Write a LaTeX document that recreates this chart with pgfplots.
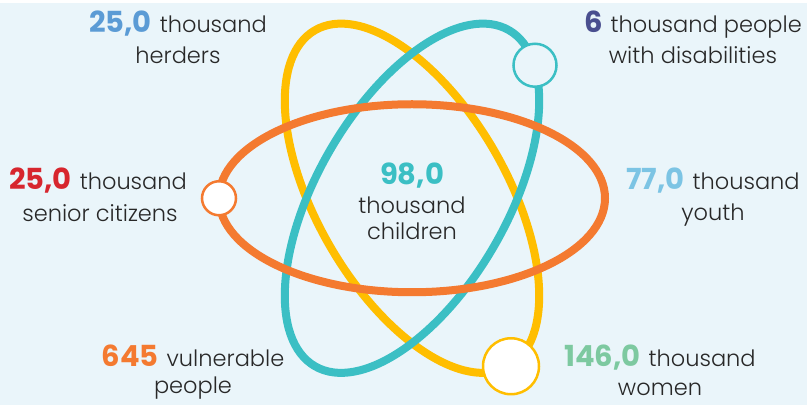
\documentclass[border=0pt]{standalone}
\usepackage{pgfplots}
\pgfplotsset{compat=1.18}
\usepackage{fontspec}
\setmainfont{Poppins}
\newfontfamily\lightfont{Poppins Light}
\definecolor{bgc}{RGB}{234,245,250}
\definecolor{orangec}{RGB}{244,122,48}
\definecolor{yellowc}{RGB}{255,190,0}
\definecolor{tealc}{RGB}{59,191,196}
\definecolor{herdc}{RGB}{91,155,213}
\definecolor{disc}{RGB}{74,79,143}
\definecolor{senc}{RGB}{215,38,46}
\definecolor{youc}{RGB}{124,196,228}
\definecolor{womc}{RGB}{125,201,160}
\definecolor{txtc}{RGB}{40,40,40}
\newcommand\num[2]{{\color{#1}\fontsize{29}{30}\selectfont\bfseries #2}\hspace{8pt}}
\newcommand\txt{\lightfont\fontsize{22.5}{26}\selectfont\color{txtc}}
\begin{document}
\begin{tikzpicture}
\begin{axis}[
  scale only axis, width=807pt, height=402pt,
  xmin=0, xmax=807, ymin=0, ymax=402, y dir=reverse,
  hide axis, clip=false,
]
\fill[bgc] (axis cs:0,0) rectangle (axis cs:807,402);
% orbits
\draw[yellowc, line width=8pt, rotate around={-60:(axis cs:412,195)}] (axis cs:412,195) ellipse [x radius=194pt, y radius=95pt];
\draw[tealc, line width=8pt, rotate around={60:(axis cs:412,195)}] (axis cs:412,195) ellipse [x radius=194pt, y radius=95pt];
\draw[orangec, line width=8pt] (axis cs:412,195) ellipse [x radius=193pt, y radius=94pt];
% electrons
\addplot[only marks, mark=*, mark size=17pt, mark options={fill=white, draw=orangec, line width=2.5pt}] coordinates {(219,195)};
\addplot[only marks, mark=*, mark size=28pt, mark options={fill=white, draw=yellowc, line width=2.5pt}] coordinates {(511,363)};
\addplot[only marks, mark=*, mark size=21.5pt, mark options={fill=bgc, draw=tealc, line width=2.5pt}] coordinates {(535,62)};
% labels
\node[anchor=base] at (axis cs:178,29) {\num{herdc}{25,0}\txt thousand};
\node[anchor=base] at (axis cs:178,60) {\txt herders};
\node[anchor=base] at (axis cs:693,29) {\num{disc}{6}\txt thousand people};
\node[anchor=base] at (axis cs:693,60) {\txt with disabilities};
\node[anchor=base] at (axis cs:98,186) {\num{senc}{25,0}\txt thousand};
\node[anchor=base] at (axis cs:100,218) {\txt senior citizens};
\node[anchor=base] at (axis cs:713,186) {\num{youc}{77,0}\txt thousand};
\node[anchor=base] at (axis cs:713,217) {\txt youth};
\node[anchor=base] at (axis cs:412,181) {{\color{tealc}\fontsize{29}{30}\selectfont\bfseries 98,0}};
\node[anchor=base] at (axis cs:412,210) {\txt thousand};
\node[anchor=base] at (axis cs:412,236) {\txt children};
\node[anchor=base] at (axis cs:193,363) {\num{orangec}{645}\txt vulnerable};
\node[anchor=base] at (axis cs:193,390) {\txt people};
\node[anchor=base] at (axis cs:660,363) {\num{womc}{146,0}\txt thousand};
\node[anchor=base] at (axis cs:660,392) {\txt women};
\end{axis}
\end{tikzpicture}
\end{document}
